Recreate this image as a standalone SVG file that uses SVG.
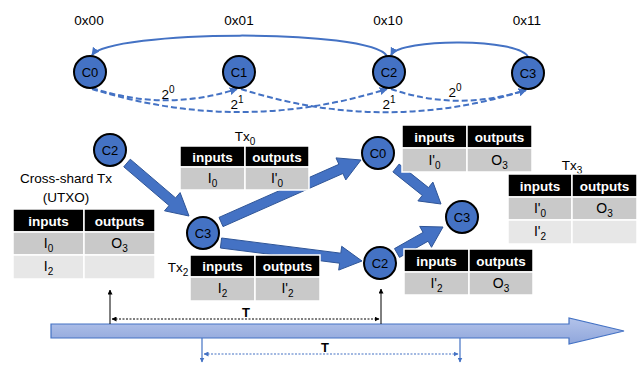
<svg xmlns="http://www.w3.org/2000/svg" width="642" height="365" viewBox="0 0 642 365">
  <defs>
    <style>
      text { font-family: "Liberation Sans", Arial, sans-serif; fill: #000; }
      .addr { font-size: 13.5px; text-anchor: middle; }
      .lbl { font-size: 13.5px; text-anchor: middle; }
      .node circle { fill: #4472c4; stroke: #000; stroke-width: 2; }
      .node text { font-size: 13px; text-anchor: middle; }
      .hd { fill: #000; stroke: #fff; stroke-width: 1.5; }
      .r1 { fill: #c9c9c9; stroke: #fff; stroke-width: 1.5; }
      .r2 { fill: #e7e7e7; stroke: #fff; stroke-width: 1.5; }
      .ht { font-size: 13.5px; font-weight: bold; fill: #fff; text-anchor: middle; }
      .ct { font-size: 14px; text-anchor: middle; }
      .arc { fill: none; stroke: #4472c4; stroke-width: 2; }
      .dash { stroke-dasharray: 6 3; }
      .block { fill: #4472c4; stroke: #2f5597; stroke-width: 1; stroke-linejoin: round; }
      .tick { fill: none; stroke: #000; stroke-width: 1; }
      .tickb { fill: none; stroke: #4472c4; stroke-width: 1.2; }
    </style>
    <marker id="ah" viewBox="0 0 10 10" refX="9" refY="5" markerUnits="userSpaceOnUse" markerWidth="8" markerHeight="8" orient="auto">
      <path d="M0,0 L10,5 L0,10 z" fill="#4472c4"/>
    </marker>
    <marker id="ak" viewBox="0 0 10 10" refX="9" refY="5" markerUnits="userSpaceOnUse" markerWidth="5" markerHeight="5" orient="auto-start-reverse">
      <path d="M0,0 L10,5 L0,10 z" fill="#000"/>
    </marker>
    <marker id="ab" viewBox="0 0 10 10" refX="9" refY="5" markerUnits="userSpaceOnUse" markerWidth="5" markerHeight="5" orient="auto-start-reverse">
      <path d="M0,0 L10,5 L0,10 z" fill="#4472c4"/>
    </marker>
    <linearGradient id="tl" x1="0" y1="0" x2="0" y2="1">
      <stop offset="0" stop-color="#b3c3ea"/>
      <stop offset="1" stop-color="#8fa6db"/>
    </linearGradient>
  </defs>

  <!-- shard addresses -->
  <text class="addr" x="89" y="25">0x00</text>
  <text class="addr" x="239" y="25">0x01</text>
  <text class="addr" x="388" y="25">0x10</text>
  <text class="addr" x="527" y="25">0x11</text>

  <!-- connectors -->
  <g id="connectors">
    <!-- ring links -->
    <path class="arc" d="M387,56 C370,28 110,30 92,55" marker-end="url(#ah)"/>
    <path class="arc" d="M528,57 C520,38 400,38 391,55" marker-end="url(#ah)"/>
    <!-- finger links -->
    <path class="arc dash" d="M92,88 Q165,112 237,89" marker-end="url(#ah)"/>
    <path class="arc dash" d="M92,89 Q240,135 387,89" marker-end="url(#ah)"/>
    <path class="arc dash" d="M241,89 Q385,135 526,90" marker-end="url(#ah)"/>
    <path class="arc dash" d="M391,89 Q458,112 526,90" marker-end="url(#ah)"/>

    <!-- routing hops -->
    <polygon class="block" points="123.75,166.8 169.05,205.5 164.5,210.8 189,216 180.1,192.6 175.55,197.9 130.25,159.2"/>
    <polygon class="block" points="223,226.6 342.9,173.5 345.8,179.9 361,160 336,157.9 338.9,164.3 219,217.4"/>
    <polygon class="block" points="220.4,248 339.6,263.2 338.7,270.1 362,261 341.7,246.3 340.8,253.2 221.6,238"/>
    <polygon class="block" points="392.9,171.9 422.3,195.4 417.9,200.9 441,204 432.9,182.1 428.5,187.6 399.1,164.1"/>
    <polygon class="block" points="399.5,257.4 428.1,241.2 431.5,247.3 443,227 419.7,226.4 423.1,232.4 394.5,248.6"/>
  </g>

  <!-- ring labels -->
  <text class="lbl" x="168" y="99">2<tspan font-size="10" dy="-6">0</tspan></text>
  <text class="lbl" x="237" y="109">2<tspan font-size="10" dy="-6">1</tspan></text>
  <text class="lbl" x="389" y="109">2<tspan font-size="10" dy="-6">1</tspan></text>
  <text class="lbl" x="455" y="97">2<tspan font-size="10" dy="-6">0</tspan></text>

  <!-- ring nodes -->
  <g id="ring-c0" class="node"><circle cx="90" cy="72" r="16"/><text x="90" y="77">C0</text></g>
  <g id="ring-c1" class="node"><circle cx="239" cy="72" r="16"/><text x="239" y="77">C1</text></g>
  <g id="ring-c2" class="node"><circle cx="389" cy="72" r="16"/><text x="389" y="77">C2</text></g>
  <g id="ring-c3" class="node"><circle cx="528" cy="73" r="16"/><text x="528" y="78">C3</text></g>

  <!-- routing nodes -->
  <g id="src-c2" class="node"><circle cx="110" cy="150" r="16"/><text x="110" y="155">C2</text></g>
  <g id="hop-c3" class="node"><circle cx="203" cy="233" r="16"/><text x="203" y="238">C3</text></g>
  <g id="hop-c0" class="node"><circle cx="378" cy="153" r="16"/><text x="378" y="158">C0</text></g>
  <g id="hop-c2" class="node"><circle cx="380" cy="263" r="16"/><text x="380" y="268">C2</text></g>
  <g id="dst-c3" class="node"><circle cx="462" cy="217" r="16"/><text x="462" y="222">C3</text></g>

  <!-- cross-shard transaction -->
  <g id="tx-utxo">
    <text class="lbl" x="66" y="183">Cross-shard Tx</text>
    <text class="lbl" x="66" y="202">(UTXO)</text>
    <rect class="hd" x="13" y="209" width="71" height="23"/>
    <rect class="hd" x="84" y="209" width="71" height="23"/>
    <rect class="r1" x="13" y="232" width="71" height="23"/>
    <rect class="r1" x="84" y="232" width="71" height="23"/>
    <rect class="r2" x="13" y="255" width="71" height="24"/>
    <rect class="r2" x="84" y="255" width="71" height="24"/>
    <text class="ht" x="48.5" y="225.5">inputs</text>
    <text class="ht" x="119.5" y="225.5">outputs</text>
    <text class="ct" x="48.5" y="248">I<tspan font-size="10" dy="4">0</tspan></text>
    <text class="ct" x="119.5" y="248">O<tspan font-size="10" dy="4">3</tspan></text>
    <text class="ct" x="48.5" y="271">I<tspan font-size="10" dy="4">2</tspan></text>
  </g>

  <!-- Tx0 -->
  <g id="tx0">
    <text class="lbl" x="245" y="141">Tx<tspan font-size="10" dy="4">0</tspan></text>
    <rect class="hd" x="180" y="146" width="65" height="21"/>
    <rect class="hd" x="245" y="146" width="64" height="21"/>
    <rect class="r1" x="180" y="167" width="65" height="23"/>
    <rect class="r1" x="245" y="167" width="64" height="23"/>
    <text class="ht" x="212.5" y="161.5">inputs</text>
    <text class="ht" x="277" y="161.5">outputs</text>
    <text class="ct" x="212.5" y="183">I<tspan font-size="10" dy="4">0</tspan></text>
    <text class="ct" x="277" y="183">I'<tspan font-size="10" dy="4">0</tspan></text>
  </g>

  <!-- C0 transaction -->
  <g id="tx-c0">
    <rect class="hd" x="402" y="125" width="65" height="23"/>
    <rect class="hd" x="467" y="125" width="65" height="23"/>
    <rect class="r1" x="402" y="148" width="65" height="24"/>
    <rect class="r1" x="467" y="148" width="65" height="24"/>
    <text class="ht" x="434.5" y="141.5">inputs</text>
    <text class="ht" x="499.5" y="141.5">outputs</text>
    <text class="ct" x="434.5" y="164.5">I'<tspan font-size="10" dy="4">0</tspan></text>
    <text class="ct" x="499.5" y="164.5">O<tspan font-size="10" dy="4">3</tspan></text>
  </g>

  <!-- Tx3 -->
  <g id="tx3">
    <text class="lbl" x="572" y="170">Tx<tspan font-size="10" dy="4">3</tspan></text>
    <rect class="hd" x="508" y="174" width="64" height="23"/>
    <rect class="hd" x="572" y="174" width="65" height="23"/>
    <rect class="r1" x="508" y="197" width="64" height="23"/>
    <rect class="r1" x="572" y="197" width="65" height="23"/>
    <rect class="r2" x="508" y="220" width="64" height="24"/>
    <rect class="r2" x="572" y="220" width="65" height="24"/>
    <text class="ht" x="540" y="190.5">inputs</text>
    <text class="ht" x="604.5" y="190.5">outputs</text>
    <text class="ct" x="540" y="213">I'<tspan font-size="10" dy="4">0</tspan></text>
    <text class="ct" x="604.5" y="213">O<tspan font-size="10" dy="4">3</tspan></text>
    <text class="ct" x="540" y="236">I'<tspan font-size="10" dy="4">2</tspan></text>
  </g>

  <!-- Tx2 -->
  <g id="tx2">
    <text class="lbl" x="178" y="272">Tx<tspan font-size="10" dy="4">2</tspan></text>
    <rect class="hd" x="190" y="255" width="65" height="22"/>
    <rect class="hd" x="255" y="255" width="65" height="22"/>
    <rect class="r1" x="190" y="277" width="65" height="24"/>
    <rect class="r1" x="255" y="277" width="65" height="24"/>
    <text class="ht" x="222.5" y="271">inputs</text>
    <text class="ht" x="287.5" y="271">outputs</text>
    <text class="ct" x="222.5" y="293">I<tspan font-size="10" dy="4">2</tspan></text>
    <text class="ct" x="287.5" y="293">I'<tspan font-size="10" dy="4">2</tspan></text>
  </g>

  <!-- C2 transaction -->
  <g id="tx-c2">
    <rect class="hd" x="404" y="249" width="65" height="23"/>
    <rect class="hd" x="469" y="249" width="64" height="23"/>
    <rect class="r1" x="404" y="272" width="65" height="23"/>
    <rect class="r1" x="469" y="272" width="64" height="23"/>
    <text class="ht" x="436.5" y="265.5">inputs</text>
    <text class="ht" x="501" y="265.5">outputs</text>
    <text class="ct" x="436.5" y="288">I'<tspan font-size="10" dy="4">2</tspan></text>
    <text class="ct" x="501" y="288">O<tspan font-size="10" dy="4">3</tspan></text>
  </g>

  <!-- timeline -->
  <g id="timeline">
    <polygon points="51,324 569,324 569,318 624,331 569,344 569,338 51,338" fill="url(#tl)" stroke="#4472c4" stroke-width="1.2"/>
    <!-- upper period -->
    <path class="tick" d="M110,324 V290" marker-end="url(#ak)"/>
    <path class="tick" d="M381,324 V289" marker-end="url(#ak)"/>
    <path class="tick" d="M112,319 H379" stroke-dasharray="2 1.5" marker-start="url(#ak)" marker-end="url(#ak)"/>
    <text x="246" y="317" font-size="13px" font-weight="bold" text-anchor="middle">T</text>
    <!-- lower period -->
    <path class="tickb" d="M202,338 V362" marker-end="url(#ab)"/>
    <path class="tickb" d="M460,338 V362" marker-end="url(#ab)"/>
    <path class="tickb" d="M204,354 H458" stroke-dasharray="2 1.5" marker-start="url(#ab)" marker-end="url(#ab)"/>
    <text x="325" y="352" font-size="13px" font-weight="bold" text-anchor="middle">T</text>
  </g>
</svg>
